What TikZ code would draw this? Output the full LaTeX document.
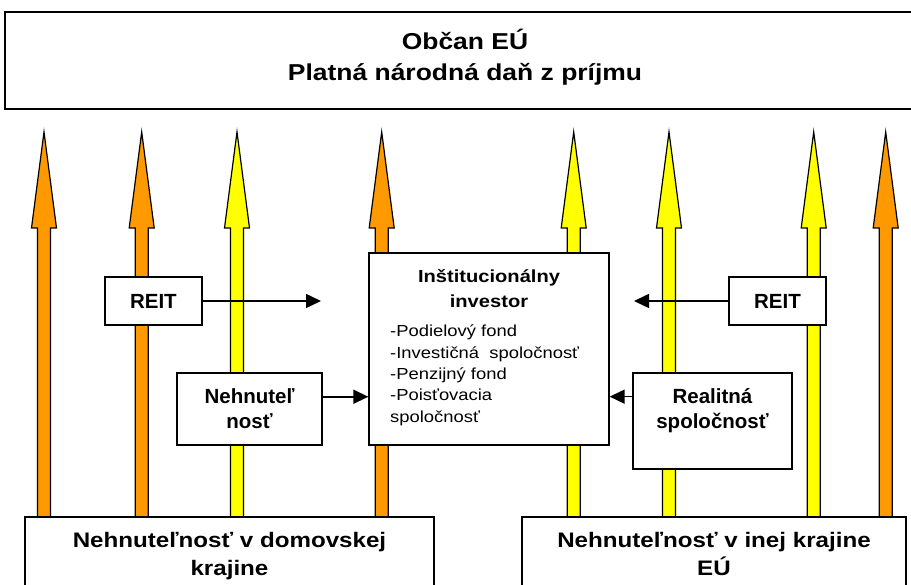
\documentclass[tikz,border=0pt]{standalone}
\usepackage{fontspec}
\setmainfont{Liberation Sans}
\newfontfamily\widefont[FakeStretch=1.15]{Liberation Sans}
\usetikzlibrary{arrows.meta,calc}
\definecolor{orng}{HTML}{FF9900}
\definecolor{yell}{HTML}{FFFF00}
\tikzset{
  box/.style={draw, line width=1.3pt, fill=white, inner sep=0pt, align=center,
    font=\bfseries\fontsize{20.5}{25}\selectfont},
  txt/.style={inner sep=0pt, align=center},
  flow/.style={line width=1.5pt, -{Triangle[length=15pt,width=14pt]}},
  fatarrow/.style={line width=1.2pt, line join=miter, draw=black}
}
\begin{document}
\begin{tikzpicture}[x=1pt,y=-1pt]
\useasboundingbox (0,0) rectangle (911,585);
\clip (0,0) rectangle (911,585);

% big upward arrows
\foreach \cx/\col in {44/orng,141.7/orng,237/yell,381.7/orng,573.7/yell,669/yell,813.7/yell,885.7/orng}{
  \filldraw[fatarrow, fill=\col] ({\cx-6.5},517) -- ({\cx-6.5},228) -- ({\cx-12.5},228) -- (\cx,132)
     -- ({\cx+12.5},228) -- ({\cx+6.5},228) -- ({\cx+6.5},517);
}

% top box
\node[draw, line width=1.4pt, fill=white, minimum width=920pt, minimum height=97pt, inner sep=0pt] (top) at (465,60.5) {};
\node[txt, font=\widefont\bfseries\fontsize{23}{31.5}\selectfont] (toptext) at (465,57) {Občan EÚ\\Platná národná daň z príjmu};

% bottom boxes
\node[box, minimum width=409pt, minimum height=100pt] (home) at (229.5,567) {};
\node[txt, font=\widefont\bfseries\fontsize{21}{28}\selectfont, anchor=north] (hometext) at (229.5,532) {Nehnuteľnosť v domovskej\\krajine};
\node[box, minimum width=384pt, minimum height=100pt] (eu) at (714,567) {};
\node[txt, font=\widefont\bfseries\fontsize{21}{28}\selectfont, anchor=north] (eutext) at (714,532) {Nehnuteľnosť v inej krajine\\EÚ};

% institutional investor
\node[box, minimum width=240pt, minimum height=192pt] (inst) at (489,349) {};
\node[txt, font=\widefont\bfseries\fontsize{17.5}{25}\selectfont] (insttitle) at (489,289) {Inštitucionálny\\investor};
\node[txt, align=left, anchor=north west, font=\widefont\fontsize{16}{21.3}\selectfont] (instlist) at (390,325)
  {-Podielový fond\\-Investičná\ \ spoločnosť\\-Penzijný fond\\-Poisťovacia\\spoločnosť};

% small boxes
\node[box, minimum width=97pt, minimum height=48pt] (reitL) at (153.4,301) {REIT};
\node[box, minimum width=97pt, minimum height=48pt] (reitR) at (777.5,301) {REIT};
\node[box, minimum width=145pt, minimum height=72pt] (neh) at (249.5,409) {Nehnuteľ\\nosť};
\node[box, minimum width=159pt, minimum height=96pt] (real) at (712.5,421) {};
\node[txt, font=\bfseries\fontsize{20.5}{25}\selectfont] (realtext) at (712.5,411) {Realitná\\spoločnosť};

% connectors
\coordinate (reitLend) at (321,301);
\coordinate (reitRend) at (634,301);
\draw[flow] (reitL.east) -- (reitLend);
\draw[flow] (reitR.west) -- (reitRend);
\coordinate (nehout) at ($(neh.north east)!0.333!(neh.south east)$);
\draw[flow] (nehout) -- (nehout -| inst.west);
\coordinate (realout) at ($(real.north west)!0.25!(real.south west)$);
\draw[flow] (realout) -- (realout -| inst.east);
\end{tikzpicture}
\end{document}
